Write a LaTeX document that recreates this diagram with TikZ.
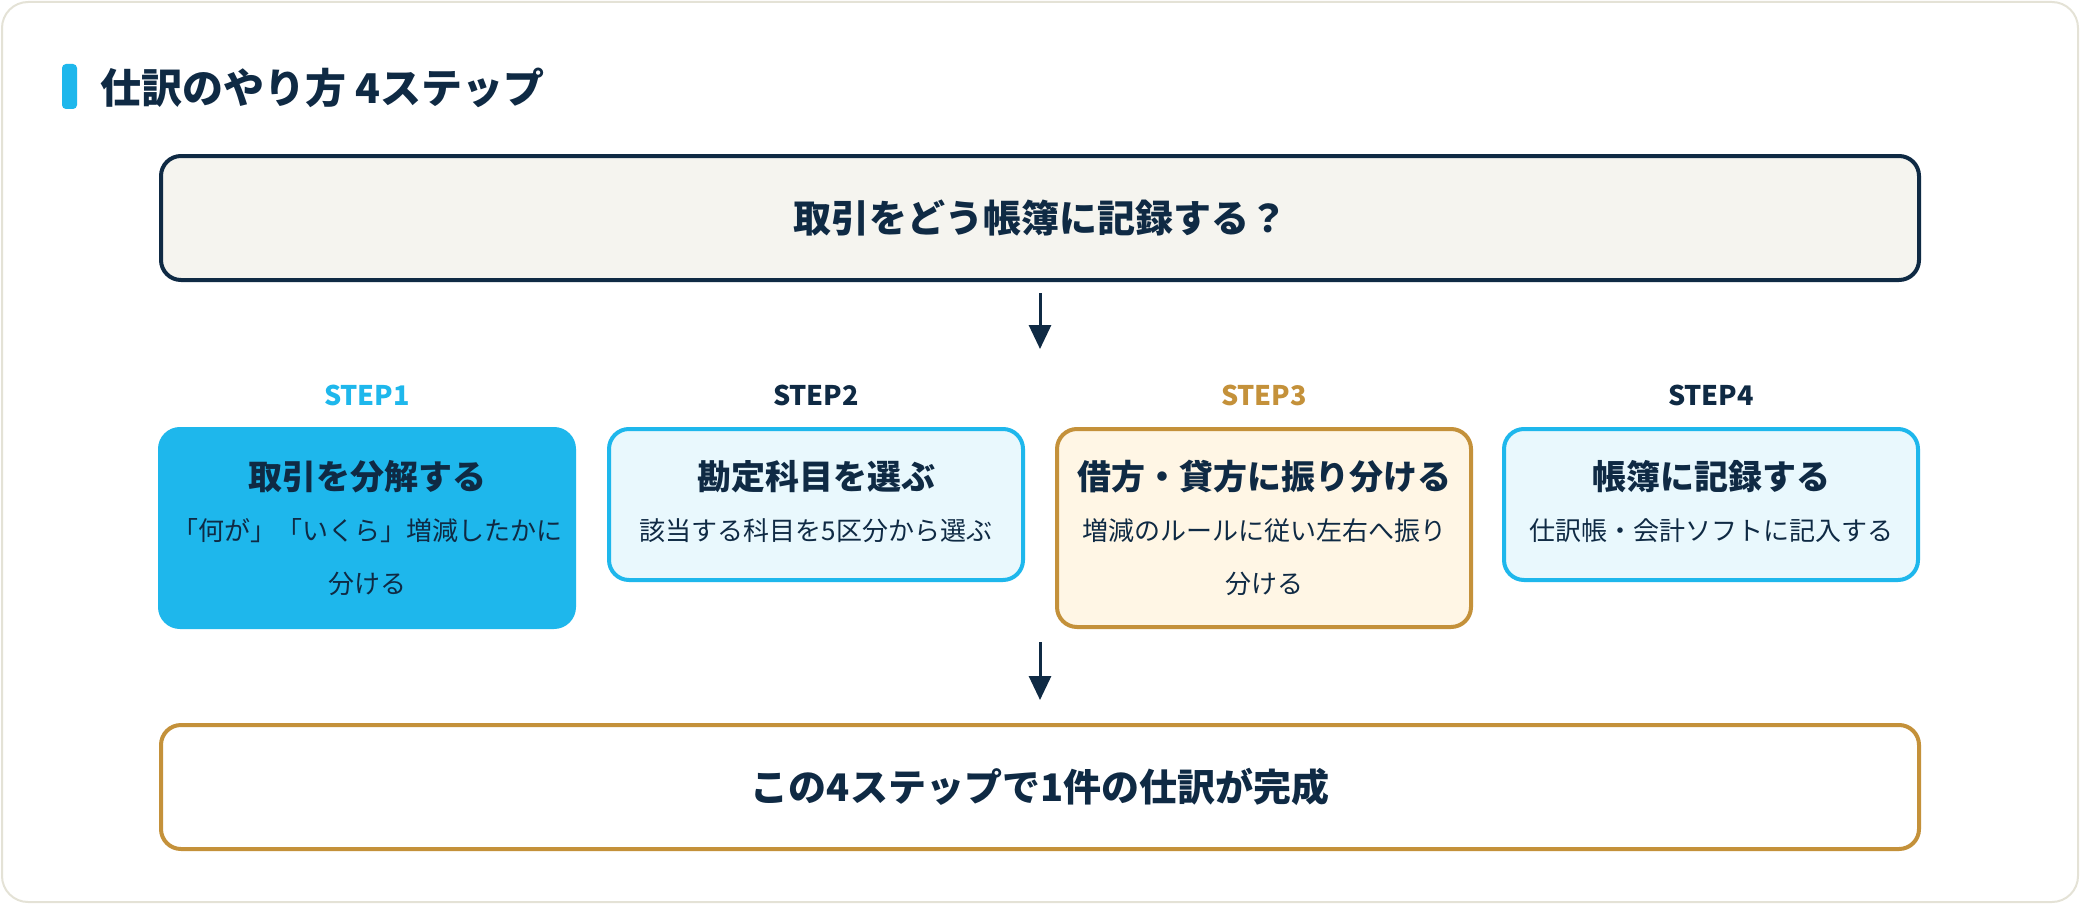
\documentclass[tikz,border=0pt]{standalone}
\usepackage{fontspec}
\setmainfont{Noto Sans CJK JP}
\usetikzlibrary{positioning,arrows.meta}
\definecolor{navy}{HTML}{0F2A44}
\definecolor{skyblue}{HTML}{1EB7EC}
\definecolor{skylight}{HTML}{E9F8FD}
\definecolor{gold}{HTML}{C4913A}
\definecolor{goldlight}{HTML}{FFF6E5}
\definecolor{paper}{HTML}{F5F4EF}
\definecolor{framegray}{HTML}{E4E2D6}

\begin{document}
\begin{tikzpicture}[x=0.5pt, y=-0.5pt,
bigbox/.style={line width=2pt, rounded corners=10pt, minimum width=879pt, minimum height=62pt, font=\fontsize{19}{23}\selectfont\bfseries, text=navy},
stepbox/.style={line width=2pt, rounded corners=10pt, minimum width=207pt, anchor=north},
steplabel/.style={font=\fontsize{13.5}{16}\selectfont\bfseries},
steptitle/.style={font=\fontsize{17}{20}\selectfont\bfseries, text=navy},
stepnote/.style={font=\fontsize{13}{26.5}\selectfont, text=navy, align=center},
flow/.style={-{Triangle[length=12pt, width=11pt]}, line width=1.5pt, draw=navy}]
\useasboundingbox (0,0) rectangle (2080,904);
\draw[draw=framegray, line width=1pt, fill=white, rounded corners=13pt] (2,2) rectangle (2078,902);

% heading
\fill[skyblue, rounded corners=2pt] (62,64) rectangle (77,109);
\node[anchor=west, font=\fontsize{20.5}{24}\selectfont\bfseries, text=navy, inner sep=0pt] (heading) at (100,88) {仕訳のやり方 4ステップ};

% question and result
\node[bigbox, draw=navy, fill=paper] (question) at (1040,218) {取引をどう帳簿に記録する？};
\node[bigbox, draw=gold, fill=white] (done) at (1040,787) {この4ステップで1件の仕訳が完成};

% the four steps
\node[stepbox, draw=skyblue, fill=skyblue, minimum height=99pt] (step1) at (367,427) {};
\node[stepbox, draw=skyblue, fill=skylight, minimum height=75.5pt] (step2) at (816,427) {};
\node[stepbox, draw=gold, fill=goldlight, minimum height=99pt] (step3) at (1264,427) {};
\node[stepbox, draw=skyblue, fill=skylight, minimum height=75.5pt] (step4) at (1711,427) {};

\node[steplabel, text=skyblue] (label1) at ([yshift=16pt]step1.north) {STEP1};
\node[steplabel, text=navy] (label2) at ([yshift=16pt]step2.north) {STEP2};
\node[steplabel, text=gold] (label3) at ([yshift=16pt]step3.north) {STEP3};
\node[steplabel, text=navy] (label4) at ([yshift=16pt]step4.north) {STEP4};

\node[steptitle] (title1) at ([yshift=-25pt]step1.north) {取引を分解する};
\node[steptitle] (title2) at ([yshift=-25pt]step2.north) {勘定科目を選ぶ};
\node[steptitle] (title3) at ([yshift=-25pt]step3.north) {借方・貸方に振り分ける};
\node[steptitle] (title4) at ([yshift=-25pt]step4.north) {帳簿に記録する};

\node[stepnote] (note1) at ([yshift=-65pt]step1.north) {「何が」「いくら」増減したかに\\分ける};
\node[stepnote] (note2) at ([yshift=-52pt]step2.north) {該当する科目を5区分から選ぶ};
\node[stepnote] (note3) at ([yshift=-65pt]step3.north) {増減のルールに従い左右へ振り\\分ける};
\node[stepnote] (note4) at ([yshift=-52pt]step4.north) {仕訳帳・会計ソフトに記入する};

% arrows
\coordinate (into) at (1040,349);
\coordinate (outof) at (1040,642);
\draw[flow, shorten <=5.5pt] (question) -- (into);
\draw[flow, shorten >=11.5pt] (outof) -- (done);
\end{tikzpicture}
\end{document}
